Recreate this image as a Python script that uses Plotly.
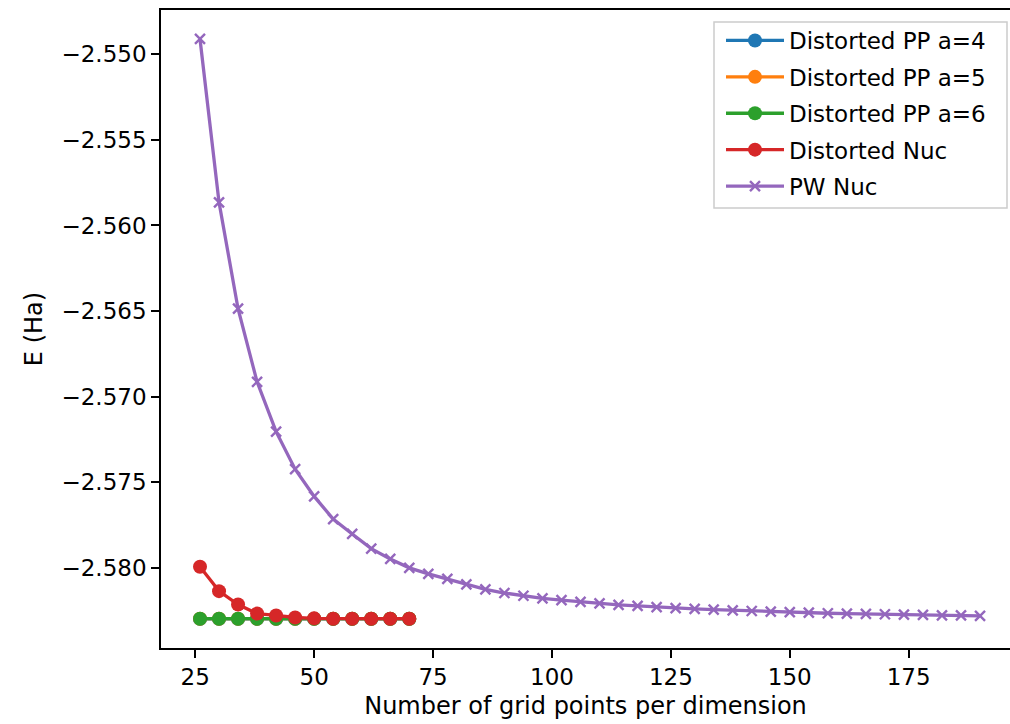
import plotly.graph_objects as go

# ---- data ----
x_distorted = [26, 30, 34, 38, 42, 46, 50, 54, 58, 62, 66, 70]
e_pp_a4 = [-2.58297, -2.58297, -2.58297, -2.58297, -2.58297, -2.58297,
           -2.58297, -2.58297, -2.58297, -2.58297, -2.58297, -2.58297]
e_pp_a5 = [-2.58296, -2.58296, -2.58296, -2.58296, -2.58296, -2.58296,
           -2.58296, -2.58296, -2.58296, -2.58296, -2.58296, -2.58296]
e_pp_a6 = [-2.58296, -2.58296, -2.58296, -2.58296, -2.58296, -2.58296,
           -2.58296, -2.58296, -2.58296, -2.58296, -2.58296, -2.58296]
e_dist_nuc = [-2.57993, -2.58135, -2.58213, -2.58266, -2.58277, -2.58289,
              -2.58294, -2.58296, -2.58296, -2.58296, -2.58296, -2.58296]

x_pw = [26, 30, 34, 38, 42, 46, 50, 54, 58, 62, 66, 70, 74, 78, 82, 86, 90,
        94, 98, 102, 106, 110, 114, 118, 122, 126, 130, 134, 138, 142, 146,
        150, 154, 158, 162, 166, 170, 174, 178, 182, 186, 190]
e_pw_nuc = [-2.54911, -2.55865, -2.56486, -2.56913, -2.57204, -2.57423,
            -2.57582, -2.57714, -2.57801, -2.57887, -2.57947, -2.57999,
            -2.58034, -2.58063, -2.58096, -2.58125, -2.58146, -2.58162,
            -2.58177, -2.58188, -2.58198, -2.58207, -2.58215, -2.58221,
            -2.58228, -2.58234, -2.58238, -2.58243, -2.58247, -2.58251,
            -2.58255, -2.58258, -2.58261, -2.58264, -2.58266, -2.58268,
            -2.58270, -2.58272, -2.58274, -2.58276, -2.58277, -2.58279]

series_names = ["Distorted PP a=4", "Distorted PP a=5", "Distorted PP a=6",
                "Distorted Nuc", "PW Nuc"]
series_colors = ["#1f77b4", "#ff7f0e", "#2ca02c", "#d62728", "#9467bd"]

x_tickvals = [25, 50, 75, 100, 125, 150, 175]
y_tickvals = [-2.580, -2.575, -2.570, -2.565, -2.560, -2.555, -2.550]
y_ticktext = ["\u22122.580", "\u22122.575", "\u22122.570", "\u22122.565",
              "\u22122.560", "\u22122.555", "\u22122.550"]

FONT = "DejaVu Sans"
FS = 23
FS_TITLE = 24

# figure geometry (pixels)
W, H = 1010, 724
ML, MR, MT, MB = 161, 0, 10, 76
PW_, PH_ = W - ML - MR, H - MT - MB


def px_to_paper_x(px):
    return (px - ML) / PW_


def px_to_paper_y(py):
    return 1 - (py - MT) / PH_


fig = go.Figure()
dist_series = [e_pp_a4, e_pp_a5, e_pp_a6, e_dist_nuc]
for i, ys in enumerate(dist_series):
    fig.add_trace(go.Scatter(
        x=x_distorted, y=ys, mode="lines+markers", name=series_names[i],
        legendgroup=f"g{i}",
        line=dict(color=series_colors[i], width=3.3),
        marker=dict(symbol="circle", size=14, color=series_colors[i]),
    ))

fig.add_trace(go.Scatter(
    x=x_pw, y=e_pw_nuc, mode="lines+markers", name=series_names[4],
    legendgroup="g4",
    line=dict(color=series_colors[4], width=3.3),
    marker=dict(symbol="x-thin", size=10, color=series_colors[4],
                line=dict(width=2.4, color=series_colors[4])),
))

# legend frame (matplotlib-style box)
lx0, lx1 = px_to_paper_x(714), px_to_paper_x(1007)
ly0, ly1 = px_to_paper_y(208), px_to_paper_y(22)
fig.add_shape(type="rect", xref="paper", yref="paper",
              x0=lx0, x1=lx1, y0=ly0, y1=ly1, layer="above",
              fillcolor="rgba(255,255,255,0.8)",
              line=dict(color="#cccccc", width=1.5))

fig.update_layout(
    width=W, height=H,
    margin=dict(l=ML, r=MR, t=MT, b=MB),
    paper_bgcolor="white", plot_bgcolor="white",
    font=dict(family=FONT, size=FS, color="#000000"),
    showlegend=True,
    legend=dict(
        x=lx0, y=px_to_paper_y(19), xanchor="left", yanchor="top",
        bgcolor="rgba(0,0,0,0)", borderwidth=0,
        font=dict(family=FONT, size=FS, color="#000000"),
        itemwidth=58, indentation=7, tracegroupgap=3.5, traceorder="grouped",
    ),
    xaxis=dict(
        range=[17.8, 196.3], tickvals=x_tickvals,
        ticks="outside", ticklen=8, tickwidth=1.6, tickcolor="black",
        showline=True, linecolor="black", linewidth=1.6, mirror=True,
        showgrid=False, zeroline=False,
        title=dict(text="Number of grid points per dimension", standoff=8,
                   font=dict(family=FONT, size=FS_TITLE)),
    ),
    yaxis=dict(
        range=[-2.58467, -2.54742], tickvals=y_tickvals, ticktext=y_ticktext,
        ticks="outside", ticklen=8, tickwidth=1.6, tickcolor="black",
        showline=True, linecolor="black", linewidth=1.6, mirror=False,
        showgrid=False, zeroline=False,
        title=dict(text="E (Ha)", standoff=12,
                   font=dict(family=FONT, size=FS_TITLE)),
    ),
)

fig.write_html("out.html", config={"displayModeBar": False},
               post_script="document.body.style.margin='0';document.body.style.overflow='hidden';")
